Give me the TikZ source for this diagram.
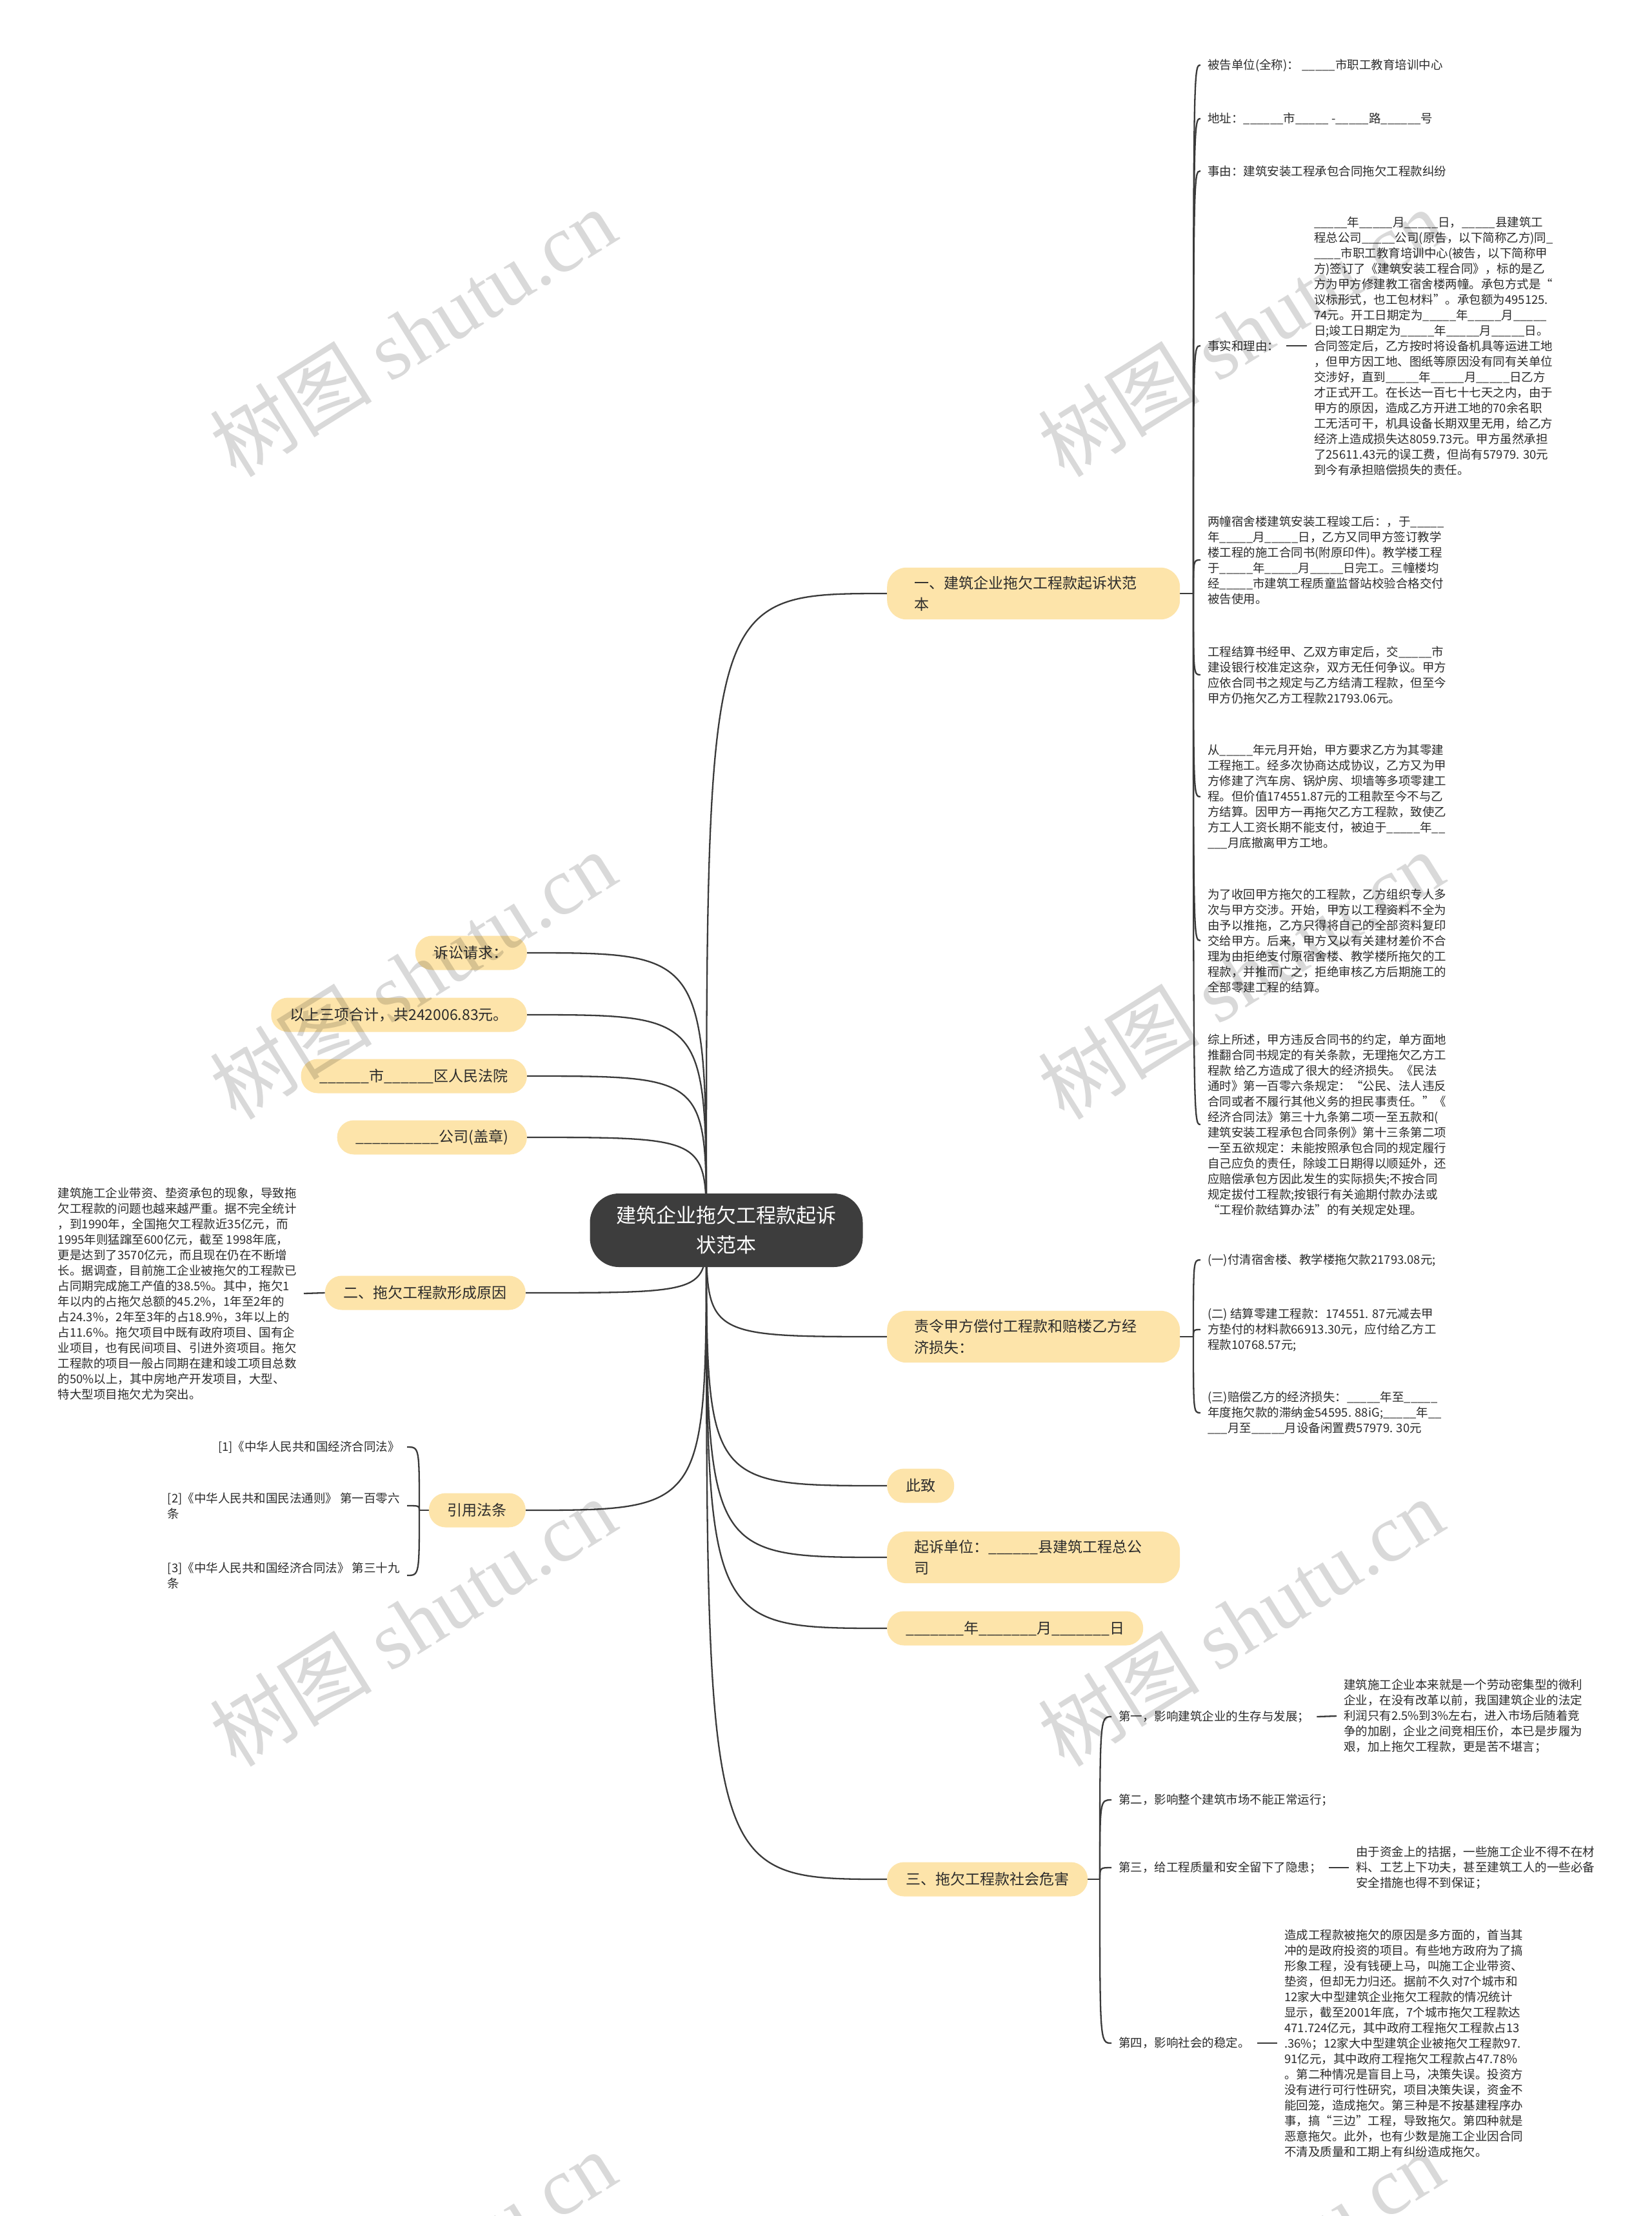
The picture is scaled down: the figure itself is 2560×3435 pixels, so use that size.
\documentclass[tikz,border=0pt]{standalone}
\usepackage{fontspec}
\setmainfont{Noto Sans CJK SC}
\newfontfamily\wmlatin{Liberation Serif}
\pgfdeclarelayer{bglayer}
\pgfdeclarelayer{connlayer}
\pgfsetlayers{bglayer,connlayer,main}
\definecolor{nodey}{HTML}{FDE4AA}
\definecolor{hubc}{HTML}{3D3D3D}
\definecolor{linec}{HTML}{3A3A3A}
\definecolor{txtc}{HTML}{2B2B2B}
\tikzset{
  conn/.style={draw=linec, line width=2.3pt},
  bnode/.style={fill=nodey, text=txtc, rounded corners=26pt, font=\fontsize{23}{33}\selectfont, inner xsep=29pt, inner ysep=0pt, minimum height=53pt},
  bwide/.style={bnode, text width=370pt, align=left, inner xsep=42pt, inner ysep=13pt, rounded corners=30pt},
  leaf/.style={font=\fontsize{18.5}{24}\selectfont, text=txtc, inner xsep=11pt, inner ysep=2pt, align=left},
  wmark/.style={rotate=32, text=black, text opacity=0.15, font=\fontsize{126}{126}\selectfont},
}
\begin{document}
\begin{tikzpicture}[x=1pt,y=-1pt]
\useasboundingbox (0,0) rectangle (2560,3435);
\begin{pgfonlayer}{bglayer}
\fill[white] (0,0) rectangle (2560,3435);
\end{pgfonlayer}

% center
\node[fill=hubc, text=white, rounded corners=45pt, minimum width=423pt, minimum height=114pt, align=center, font=\fontsize{31}{46}\selectfont] (root) at (1126,1907) {建筑企业拖欠工程款起诉\\状范本};
\coordinate (hub) at (1095,1907);

% left branches
\node[bnode, anchor=east] (a1) at (817,1477) {诉讼请求：};
\node[bnode, anchor=east] (a2) at (817,1573) {以上三项合计，共242006.83元。};
\node[bnode, anchor=east] (a3) at (817,1668) {\_\_\_\_\_\_市\_\_\_\_\_\_区人民法院};
\node[bnode, anchor=east] (a4) at (817,1763) {\_\_\_\_\_\_\_\_\_\_公司(盖章)};
\node[bnode, anchor=east] (a5) at (815,2004) {二、拖欠工程款形成原因};
\node[bnode, anchor=east] (a6) at (815,2341) {引用法条};

% right branches
\node[bwide, anchor=west] (b1) at (1375,920) {一、建筑企业拖欠工程款起诉状范\\本};
\node[bwide, anchor=west] (b2) at (1375,2072) {责令甲方偿付工程款和赔楼乙方经\\济损失：};
\node[bnode, anchor=west] (b3) at (1375,2303) {此致};
\node[bwide, anchor=west] (b4) at (1375,2414) {起诉单位：\_\_\_\_\_\_县建筑工程总公\\司};
\node[bnode, anchor=west] (b5) at (1375,2524) {\_\_\_\_\_\_\_年\_\_\_\_\_\_\_月\_\_\_\_\_\_\_日};
\node[bnode, anchor=west] (b6) at (1375,2913) {三、拖欠工程款社会危害};

% children of b1
\node[leaf, anchor=west] (r1) at (1861,101) {被告单位(全称)：\ \_\_\_\_\_市职工教育培训中心};
\node[leaf, anchor=west] (r2) at (1861,184) {地址：\_\_\_\_\_\_市\_\_\_\_\_ -\_\_\_\_\_路\_\_\_\_\_\_号};
\node[leaf, anchor=west] (r3) at (1861,265) {事由：建筑安装工程承包合同拖欠工程款纠纷};
\node[leaf, anchor=west] (r4) at (1861,536) {事实和理由：};
\node[leaf, anchor=west] (r4b) at (2026,536) {\_\_\_\_\_年\_\_\_\_\_月\_\_\_\_\_日，\_\_\_\_\_县建筑工\\
程总公司\_\_\_\_\_公司(原告，以下简称乙方)同\_\\
\_\_\_\_市职工教育培训中心(被告，以下简称甲\\
方)签订了《建筑安装工程合同》，标的是乙\\
方为甲方修建教工宿舍楼两幢。承包方式是“\\
议标形式，也工包材料”。承包额为495125.\\
74元。开工日期定为\_\_\_\_\_年\_\_\_\_\_月\_\_\_\_\_\\
日;竣工日期定为\_\_\_\_\_年\_\_\_\_\_月\_\_\_\_\_日。\\
合同签定后，乙方按时将设备机具等运进工地\\
，但甲方因工地、图纸等原因没有同有关单位\\
交涉好，直到\_\_\_\_\_年\_\_\_\_\_月\_\_\_\_\_日乙方\\
才正式开工。在长达一百七十七天之内，由于\\
甲方的原因，造成乙方开进工地的70余名职\\
工无活可干，机具设备长期双里无用，给乙方\\
经济上造成损失达8059.73元。甲方虽然承担\\
了25611.43元的误工费，但尚有57979. 30元\\
到今有承担赔偿损失的责任。};
\node[leaf, anchor=west] (r5) at (1861,868) {两幢宿舍楼建筑安装工程竣工后：，于\_\_\_\_\_\\
年\_\_\_\_\_月\_\_\_\_\_日，乙方又同甲方签订教学\\
楼工程的施工合同书(附原印件)。教学楼工程\\
于\_\_\_\_\_年\_\_\_\_\_月\_\_\_\_\_日完工。三幢楼均\\
经\_\_\_\_\_市建筑工程质童监督站校验合格交付\\
被告使用。};
\node[leaf, anchor=west] (r6) at (1861,1046) {工程结算书经甲、乙双方审定后，交\_\_\_\_\_市\\
建设银行校准定这杂，双方无任何争议。甲方\\
应依合同书之规定与乙方结清工程款，但至今\\
甲方仍拖欠乙方工程款21793.06元。};
\node[leaf, anchor=west] (r7) at (1861,1235) {从\_\_\_\_\_年元月开始，甲方要求乙方为其零建\\
工程拖工。经多次协商达成协议，乙方又为甲\\
方修建了汽车房、锅炉房、坝墙等多项零建工\\
程。但价值174551.87元的工租款至今不与乙\\
方结算。因甲方一再拖欠乙方工程款，致使乙\\
方工人工资长期不能支付，被迫于\_\_\_\_\_年\_\_\\
\_\_\_月底撤离甲方工地。};
\node[leaf, anchor=west] (r8) at (1861,1458) {为了收回甲方拖欠的工程款，乙方组织专人多\\
次与甲方交涉。开始，甲方以工程资料不全为\\
由予以推拖，乙方只得将自己的全部资料复印\\
交给甲方。后来，甲方又以有关建材差价不合\\
理为由拒绝支付原宿舍楼、教学楼所拖欠的工\\
程款，并推而广之，拒绝审核乙方后期施工的\\
全部零建工程的结算。};
\node[leaf, anchor=west] (r9) at (1861,1743) {综上所述，甲方违反合同书的约定，单方面地\\
推翻合同书规定的有关条款，无理拖欠乙方工\\
程款 给乙方造成了很大的经济损失。《民法\\
通时》第一百零六条规定：“公民、法人违反\\
合同或者不履行其他义务的担民事责任。”《\\
经济合同法》第三十九条第二项一至五款和(\\
建筑安装工程承包合同条例》第十三条第二项\\
一至五欲规定：未能按照承包合同的规定履行\\
自己应负的责任，除竣工日期得以顺延外，还\\
应赔偿承包方因此发生的实际损失;不按合同\\
规定拔付工程款;按银行有关逾期付款办法或\\
“工程价款结算办法”的有关规定处理。};

% children of b2
\node[leaf, anchor=west] (q1) at (1861,1953) {(一)付清宿舍楼、教学楼拖欠款21793.08元;};
\node[leaf, anchor=west] (q2) at (1861,2061) {(二) 结算零建工程款：174551. 87元减去甲\\
方垫付的材料款66913.30元，应付给乙方工\\
程款10768.57元;};
\node[leaf, anchor=west] (q3) at (1861,2190) {(三)赔偿乙方的经济损失：\_\_\_\_\_年至\_\_\_\_\_\\
年度拖欠款的滞纳金54595. 88iG;\_\_\_\_\_年\_\_\\
\_\_\_月至\_\_\_\_\_月设备闲置费57979. 30元};

% children of b6
\node[leaf, anchor=west] (s1) at (1723,2661) {第一，影响建筑企业的生存与发展；};
\node[leaf, anchor=west] (s1b) at (2072,2660) {建筑施工企业本来就是一个劳动密集型的微利\\
企业，在没有改革以前，我国建筑企业的法定\\
利润只有2.5\%到3\%左右，进入市场后随着竞\\
争的加剧，企业之间竞相压价，本已是步履为\\
艰，加上拖欠工程款，更是苦不堪言；};
\node[leaf, anchor=west] (s2) at (1723,2790) {第二，影响整个建筑市场不能正常运行；};
\node[leaf, anchor=west] (s3) at (1723,2895) {第三，给工程质量和安全留下了隐患；};
\node[leaf, anchor=west] (s3b) at (2091,2895) {由于资金上的拮据，一些施工企业不得不在材\\
料、工艺上下功夫，甚至建筑工人的一些必备\\
安全措施也得不到保证；};
\node[leaf, anchor=west] (s4) at (1723,3167) {第四，影响社会的稳定。};
\node[leaf, anchor=west] (s4b) at (1980,3167) {造成工程款被拖欠的原因是多方面的，首当其\\
冲的是政府投资的项目。有些地方政府为了搞\\
形象工程，没有钱硬上马，叫施工企业带资、\\
垫资，但却无力归还。据前不久对7个城市和\\
12家大中型建筑企业拖欠工程款的情况统计\\
显示，截至2001年底，7个城市拖欠工程款达\\
471.724亿元，其中政府工程拖欠工程款占13\\
.36\%；12家大中型建筑企业被拖欠工程款97.\\
91亿元，其中政府工程拖欠工程款占47.78\%\\
。第二种情况是盲目上马，决策失误。投资方\\
没有进行可行性研究，项目决策失误，资金不\\
能回笼，造成拖欠。第三种是不按基建程序办\\
事，搞“三边”工程，导致拖欠。第四种就是\\
恶意拖欠。此外，也有少数是施工企业因合同\\
不清及质量和工期上有纠纷造成拖欠。};

% child of a5
\node[leaf, anchor=east] (e1) at (471,2005) {建筑施工企业带资、垫资承包的现象，导致拖\\
欠工程款的问题也越来越严重。据不完全统计\\
，到1990年，全国拖欠工程款近35亿元，而\\
1995年则猛蹿至600亿元，截至 1998年底，\\
更是达到了3570亿元，而且现在仍在不断增\\
长。据调查，目前施工企业被拖欠的工程款已\\
占同期完成施工产值的38.5\%。其中，拖欠1\\
年以内的占拖欠总额的45.2\%，1年至2年的\\
占24.3\%，2年至3年的占18.9\%，3年以上的\\
占11.6\%。拖欠项目中既有政府项目、国有企\\
业项目，也有民间项目、引进外资项目。拖欠\\
工程款的项目一般占同期在建和竣工项目总数\\
的50\%以上，其中房地产开发项目，大型、\\
特大型项目拖欠尤为突出。};

% children of a6
\node[leaf, anchor=east] (f1) at (631,2243) {[1]《中华人民共和国经济合同法》};
\node[leaf, anchor=east] (f2) at (631,2334) {[2]《中华人民共和国民法通则》 第一百零六\\条};
\node[leaf, anchor=east] (f3) at (631,2442) {[3]《中华人民共和国经济合同法》 第三十九\\条};

\coordinate (j1) at (1850,920);
\coordinate (j2) at (1850,2072);
\coordinate (j6) at (1705,2913);
\coordinate (jl) at (650,2341);

\begin{pgfonlayer}{connlayer}
\foreach \t in {a1,a2,a3,a4,a5,a6}
  \draw[conn] (hub) .. controls (hub |- \t.east) .. (\t.east);
\foreach \t in {b1,b2,b3,b4,b5,b6}
  \draw[conn] (hub) .. controls (hub |- \t.west) .. (\t.west);
\draw[conn] (b1.east) -- (j1);
\foreach \c in {r1,r2,r3,r4,r5,r6,r7,r8,r9}
  \draw[conn] (j1) .. controls (j1 |- \c.west) .. (\c.west);
\draw[conn] (b2.east) -- (j2);
\foreach \c in {q1,q2,q3}
  \draw[conn] (j2) .. controls (j2 |- \c.west) .. (\c.west);
\draw[conn] (b6.east) -- (j6);
\foreach \c in {s1,s2,s3,s4}
  \draw[conn] (j6) .. controls (j6 |- \c.west) .. (\c.west);
\draw[conn] (a6.west) -- (jl);
\foreach \c in {f1,f2,f3}
  \draw[conn] (jl) .. controls (jl |- \c.east) .. (\c.east);
\draw[conn] (r4.east) -- (r4b.west);
\draw[conn] (s1.east) -- (s1b.west);
\draw[conn] (s3.east) -- (s3b.west);
\draw[conn] (s4.east) -- (s4b.west);
\draw[conn] (a5.west) -- (e1.east);
\end{pgfonlayer}

% watermarks
\node[wmark] (wm1) at (640,515) {树图 {\wmlatin shutu.cn}};
\node[wmark] (wm2) at (1923,515) {树图 {\wmlatin shutu.cn}};
\node[wmark] (wm3) at (640,1511) {树图 {\wmlatin shutu.cn}};
\node[wmark] (wm4) at (1923,1511) {树图 {\wmlatin shutu.cn}};
\node[wmark] (wm5) at (640,2514) {树图 {\wmlatin shutu.cn}};
\node[wmark] (wm6) at (1923,2514) {树图 {\wmlatin shutu.cn}};
\node[wmark] (wm7) at (640,3526) {树图 {\wmlatin shutu.cn}};
\node[wmark] (wm8) at (1923,3526) {树图 {\wmlatin shutu.cn}};
\end{tikzpicture}
\end{document}
